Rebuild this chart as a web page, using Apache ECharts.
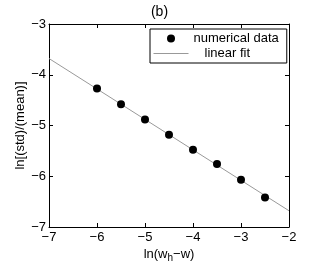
<!DOCTYPE html>
<html><head><meta charset="utf-8">
<script src="https://cdn.jsdelivr.net/npm/echarts@6/dist/echarts.min.js"></script>
<style>html,body{margin:0;padding:0;background:#fff}#c{width:319px;height:262px}</style>
</head><body><div id="c"></div>
<script>
var xData = [-6, -5.5, -5, -4.5, -4, -3.5, -3, -2.5];
var yData = [-4.27, -4.58, -4.88, -5.18, -5.48, -5.76, -6.07, -6.42];
var fitX = [-7, -2];
var fitY = [-3.68, -6.68];
var xTicks = [-7, -6, -5, -4, -3, -2];
var yTicks = [-7, -6, -5, -4, -3];

var font = 'Liberation Sans, Arial, sans-serif';
function fmt(v){ return String(v).replace('-', '\u2212'); }
var chart = echarts.init(document.getElementById('c'));
var common = {
  axisLine:{show:true, lineStyle:{color:'#000', width:1}},
  axisTick:{show:true, inside:true, length:4, lineStyle:{color:'#000'}},
  splitLine:{show:false}
};
chart.setOption({
  animation:false,
  textStyle:{fontFamily:font},
  title:{text:'(b)', left:'center', top:0, textStyle:{fontSize:14, fontWeight:'normal', color:'#000', fontFamily:font}},
  grid:{left:49, top:24, right:30, bottom:35, outerBoundsMode:'none', containLabel:false},
  legend:{
    orient:'vertical', left:150, top:29,
    backgroundColor:'#fff', borderColor:'#000', borderWidth:1, borderRadius:0,
    padding:[3,8,3,3], itemGap:2, itemWidth:35, itemHeight:8,
    textStyle:{fontSize:13, color:'#000', fontFamily:font, rich:{p:{width:11}}},
    formatter:function(n){ return n === 'linear fit' ? '{p|}' + n : n; },
    data:[
      {name:'numerical data', icon:'circle', itemStyle:{color:'#000', opacity:1}},
      {name:'linear fit', itemStyle:{opacity:0}, lineStyle:{color:'#999', width:1}}
    ]
  },
  xAxis:[
    Object.assign({type:'value', min:xTicks[0], max:xTicks[xTicks.length-1], interval:1,
      name:'{n|ln(w}{s|h}{n|\u2212w)}', nameLocation:'middle', nameGap:18, nameMoveOverlap:false,
      nameTextStyle:{rich:{n:{fontSize:13, color:'#000', fontFamily:font}, s:{fontSize:10, color:'#000', fontFamily:font, padding:[8,0,0,0]}}},
      axisLabel:{fontSize:13, color:'#000', margin:4, formatter:fmt}}, common),
    Object.assign({type:'value', position:'top', min:xTicks[0], max:xTicks[xTicks.length-1], interval:1,
      axisLabel:{show:false}}, common)
  ],
  yAxis:[
    Object.assign({type:'value', min:yTicks[0], max:yTicks[yTicks.length-1], interval:1,
      name:'ln[(std)/(mean)]', nameLocation:'middle', nameGap:22, nameMoveOverlap:false,
      nameTextStyle:{fontSize:13, color:'#000', fontFamily:font},
      axisLabel:{fontSize:13, color:'#000', margin:3, formatter:fmt}}, common),
    Object.assign({type:'value', position:'right', min:yTicks[0], max:yTicks[yTicks.length-1], interval:1,
      axisLabel:{show:false}}, common)
  ],
  series:[
    {name:'linear fit', type:'line', data:fitX.map(function(x,i){return [x, fitY[i]];}),
      showSymbol:false, symbol:'none', lineStyle:{color:'#999', width:1}, itemStyle:{color:'#999'}, z:2},
    {name:'numerical data', type:'scatter', data:xData.map(function(x,i){return [x, yData[i]];}),
      symbol:'circle', symbolSize:8, itemStyle:{color:'#000', opacity:1}, z:3}
  ]
});
</script></body></html>
